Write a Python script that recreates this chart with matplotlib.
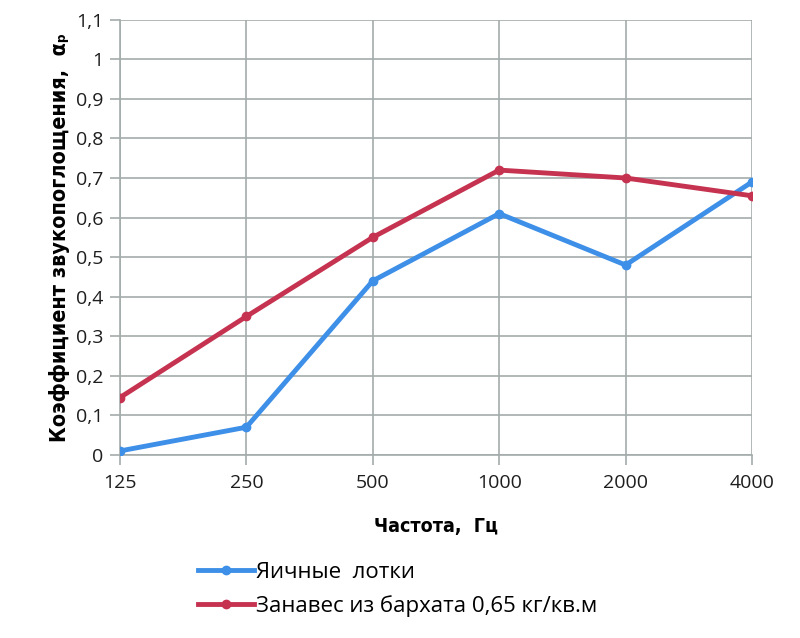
import numpy as np
import matplotlib.pyplot as plt

freqs = ['125', '250', '500', '1000', '2000', '4000']
egg_trays = [0.01, 0.07, 0.44, 0.61, 0.48, 0.69]
velvet = [0.145, 0.35, 0.55, 0.72, 0.70, 0.655]
y_ticks = [0, 0.1, 0.2, 0.3, 0.4, 0.5, 0.6, 0.7, 0.8, 0.9, 1.0, 1.1]
y_labels = ['0', '0,1', '0,2', '0,3', '0,4', '0,5', '0,6', '0,7', '0,8', '0,9', '1', '1,1']

plt.rcParams['font.family'] = ['Open Sans', 'DejaVu Sans']

fig = plt.figure(figsize=(8, 6.38), dpi=100)
ax = fig.add_axes([0.15, 0.287, 0.79, 0.682])

grid_col = '#a3acaa'
x = np.arange(len(freqs))
l1, = ax.plot(x, egg_trays, color='#3d8fe8', linewidth=3.5, marker='o', markersize=6,
              label='Яичные  лотки', zorder=3)
l2, = ax.plot(x, velvet, color='#c63350', linewidth=3.5, marker='o', markersize=6,
              label='Занавес из бархата 0,65 кг/кв.м', zorder=3)

ax.set_xlim(0, len(freqs) - 1)
ax.set_ylim(0, 1.1)
ax.set_xticks(x)
ax.set_xticklabels(freqs, fontsize=14)
ax.set_yticks(y_ticks)
ax.set_yticklabels(y_labels, fontsize=14)

ax.grid(True, color=grid_col, linewidth=1.2)
ax.set_axisbelow(True)
for s in ['top', 'right']:
    ax.spines[s].set_visible(False)
for s in ['left', 'bottom']:
    ax.spines[s].set_color(grid_col)
    ax.spines[s].set_linewidth(1.2)
ax.tick_params(axis='both', colors=grid_col, length=7, width=1.2, labelcolor='#1e1e1e')
ax.tick_params(axis='x', pad=7)
ax.tick_params(axis='y', pad=5)

ax.set_xlabel('Частота,  Гц', fontsize=14, fontweight='bold', family='DejaVu Sans',
              fontstretch='condensed', labelpad=18)
ax.set_ylabel('Коэффициент звукопоглощения,  αₚ', fontsize=15.5, fontweight='bold',
              family='DejaVu Sans', fontstretch='condensed', labelpad=4)

fig.legend(handles=[l1, l2], loc='upper left', bbox_to_anchor=(0.237, 0.133), frameon=False,
           fontsize=16, handlelength=2.5, handletextpad=0.1, labelspacing=0.55, borderaxespad=0)

fig.savefig('out.png', dpi=100)
